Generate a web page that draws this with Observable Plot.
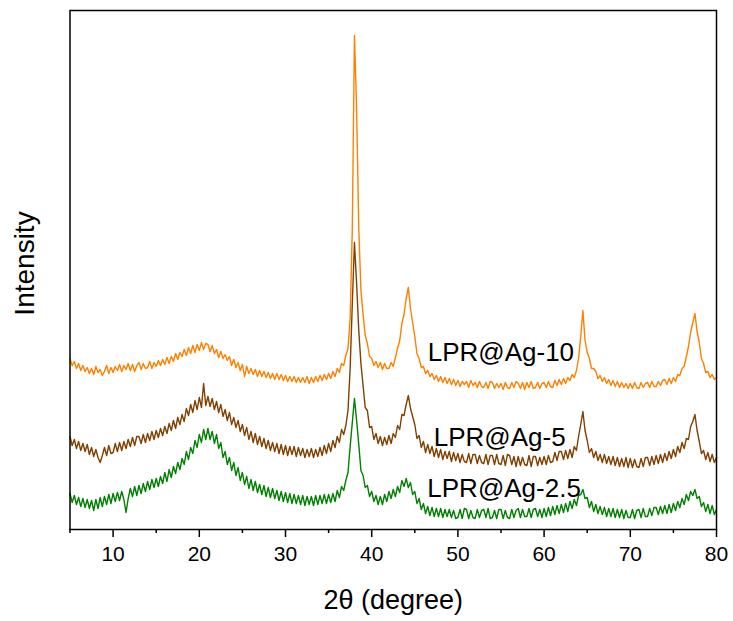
<!DOCTYPE html>
<html><head><meta charset="utf-8">
<script src="https://cdn.jsdelivr.net/npm/d3@7"></script>
<script src="https://cdn.jsdelivr.net/npm/@observablehq/plot@0.6"></script>
<style>body{margin:0;background:#fff} #chart svg{display:block}</style>
</head><body><div id="chart"></div>
<script>
// 2θ sampling grid of the read-off values (degrees)
const twoThetaStart = 5, twoThetaStep = 0.25;
const seriesNames = ["LPR@Ag-10", "LPR@Ag-5", "LPR@Ag-2.5"];
const seriesColors = ["#FF8000", "#804000", "#008000"];
// intensities (a.u., stacked/offset as in the figure), one value per 0.25°, 5°..80°
const ag10 = [
170,163,167,160, 165,158,163,157, 161,155,160,154, 162,156,159,153, 157,163,155,161,
156,162,158,164, 157,163,159,165, 158,164,157,163, 166,159,165,160, 161,167,160,166,
162,168,163,169, 164,171,165,172, 167,175,169,176, 172,179,173,181, 175,183,176,184,
178,186,179,185, 184,177,183,175, 179,171,177,170, 174,168,172,163, 169,161,166,158,
164,152,162,155, 160,154,159,152, 158,152,157,151, 156,150,155,149, 155,149,154,148,
153,147,152,147, 152,146,151,146, 151,146,152,145, 151,146,152,147, 153,148,154,149,
155,150,157,152, 160,156,165,163, 173,180,210,300, 493,420,300,238, 214,193,185,172,
170,163,167,161, 166,159,165,160, 160,166,162,171, 180,188,205,214, 230,241,220,206,
192,175,170,161, 162,155,158,152, 155,149,153,147, 152,146,151,145, 150,144,149,143,
148,142,147,144, 147,141,148,143, 146,141,147,142, 141,146,140,147, 146,140,145,141,
145,139,146,141, 140,146,141,147, 145,140,146,139, 146,141,147,140, 141,146,140,145,
146,141,147,142, 141,148,143,149, 144,150,145,151, 148,154,151,158, 170,192,218,188,
176,170,160,160, 157,150,153,147, 151,145,149,143, 148,142,147,141, 146,141,145,140,
145,140,146,141, 140,146,141,145, 146,141,147,142, 142,147,143,148, 149,144,150,145,
151,147,154,153, 160,162,172,182, 196,206,215,197, 186,170,165,156, 157,151,154,149,
151];
const ag5 = [
92,83,89,80, 87,78,85,77, 84,74,81,72, 79,71,66,73, 81,73,83,75,
76,85,77,86, 78,87,80,89, 82,91,83,92, 92,85,94,86, 95,88,97,89,
98,91,100,93, 102,95,105,98, 108,100,111,104, 114,107,120,113, 124,116,128,119,
131,121,145,123, 132,122,130,119, 127,116,124,112, 119,108,116,104, 111,101,108,97,
104,93,101,89, 97,86,95,84, 92,82,90,80, 88,78,86,77, 85,75,84,74,
83,73,82,74, 82,72,81,73, 80,71,79,72, 80,71,79,72, 81,73,83,75,
85,77,88,81, 92,86,99,94, 103,118,160,225, 286,245,198,165, 143,121,118,101,
102,89,95,85, 92,83,91,84, 93,85,95,91, 103,99,114,113, 124,133,120,112,
104,90,93,81, 87,76,84,75, 82,72,80,71, 79,69,77,70, 77,67,76,68,
75,66,74,67, 66,75,65,74, 74,65,73,66, 65,74,64,73, 73,64,74,65,
64,73,63,74, 73,64,72,62, 72,63,71,64, 63,73,62,72, 72,63,71,64,
72,64,73,66, 67,76,68,77, 77,69,78,70, 79,71,82,78, 92,104,117,98,
88,76,80,71, 77,68,74,66, 74,65,72,64, 72,63,71,62, 70,62,71,61,
70,61,69,62, 61,70,62,71, 71,63,72,64, 73,65,74,66, 75,68,77,70,
79,72,82,76, 86,80,90,89, 102,107,114,98, 87,75,78,69, 76,67,74,66,
71];
const ag25 = [
35,26,33,24, 31,22,30,21, 29,20,28,18, 29,20,31,22, 32,24,34,25,
35,27,36,28, 37,29,16,30, 40,32,42,33, 43,35,45,37, 47,39,49,41,
50,42,52,45, 56,47,59,51, 62,55,66,59, 70,64,77,69, 81,75,88,81,
94,86,99,89, 100,89,97,85, 94,80,86,71, 77,64,71,58, 66,53,61,48,
56,44,52,40, 49,38,47,36, 44,34,43,32, 41,31,40,30, 38,28,37,27,
36,26,35,25, 34,25,33,24, 33,23,32,24, 32,23,33,24, 33,25,34,25,
34,26,35,27, 38,31,42,38, 48,56,82,106, 130,108,84,58, 53,41,43,32,
37,27,33,24, 32,24,34,27, 37,30,39,32, 42,36,48,42, 50,41,46,34,
37,25,30,19, 25,15,22,13, 21,12,20,12, 20,11,19,12, 19,11,18,10,
11,19,10,20, 19,10,18,11, 10,19,11,18, 19,11,20,10, 11,18,10,19,
19,10,18,11, 10,19,11,18, 20,11,19,12, 12,20,11,19, 20,12,19,11,
20,12,21,13, 22,14,23,15, 24,16,25,17, 27,20,29,23, 33,34,39,30,
31,21,27,17, 24,15,22,14, 21,12,20,12, 20,11,19,11, 19,10,18,11,
11,19,10,18, 19,11,20,12, 12,20,13,21, 21,14,22,15, 23,15,24,16,
25,18,27,21, 30,24,34,28, 37,33,39,30, 32,22,26,17, 24,15,23,14,
19];
// curve labels (position in data coordinates: 2θ, intensity at text baseline)
const labelX = [46.5, 47.2, 46.45];
const labelY = [167.3, 82.3, 32];
const majorTicks = [10, 20, 30, 40, 50, 60, 70, 80];
const minorTicks = [5, 15, 25, 35, 45, 55, 65, 75];
const xTitle = "2θ (degree)";
const yTitle = "Intensity";

const rows = [];
[ag10, ag5, ag25].forEach((arr, k) => arr.forEach((v, i) => rows.push({x: twoThetaStart + i * twoThetaStep, y: v, s: seriesNames[k]})));
const labels = seriesNames.map((n, i) => ({x: labelX[i], y: labelY[i], t: n}));

const chart = Plot.plot({
  width: 733, height: 621,
  marginLeft: 69.5, marginRight: 17, marginTop: 10, marginBottom: 92,
  style: {fontFamily: "'Liberation Sans', Arial, sans-serif", background: "#fff", color: "#000"},
  x: {domain: [5, 80]},
  y: {domain: [-1, 518], axis: null},
  color: {domain: seriesNames, range: seriesColors},
  marks: [
    Plot.lineY(rows, {x: "x", y: "y", stroke: "s", z: "s", strokeWidth: 1.4}),
    Plot.axisX({ticks: majorTicks, tickSize: 8, tickPadding: 9, fontSize: 21, strokeWidth: 1.5, label: null}),
    Plot.axisX({ticks: minorTicks, tickSize: 4, tickFormat: () => "", strokeWidth: 1.5, label: null}),
    Plot.frame({stroke: "#000", strokeWidth: 1.5}),
    Plot.text(labels, {x: "x", y: "y", text: "t", textAnchor: "start", lineAnchor: "bottom", fontSize: 26, fill: "#000"}),
    Plot.text([xTitle], {text: d => d, frameAnchor: "bottom", dy: 71, lineAnchor: "middle", fontSize: 27, fill: "#000"}),
    Plot.text([yTitle], {text: d => d, x: -0.25, y: 265, rotate: -90, lineAnchor: "middle", textAnchor: "middle", fontSize: 28, fill: "#000"})
  ]
});
document.getElementById("chart").append(chart);
</script>
</body></html>
